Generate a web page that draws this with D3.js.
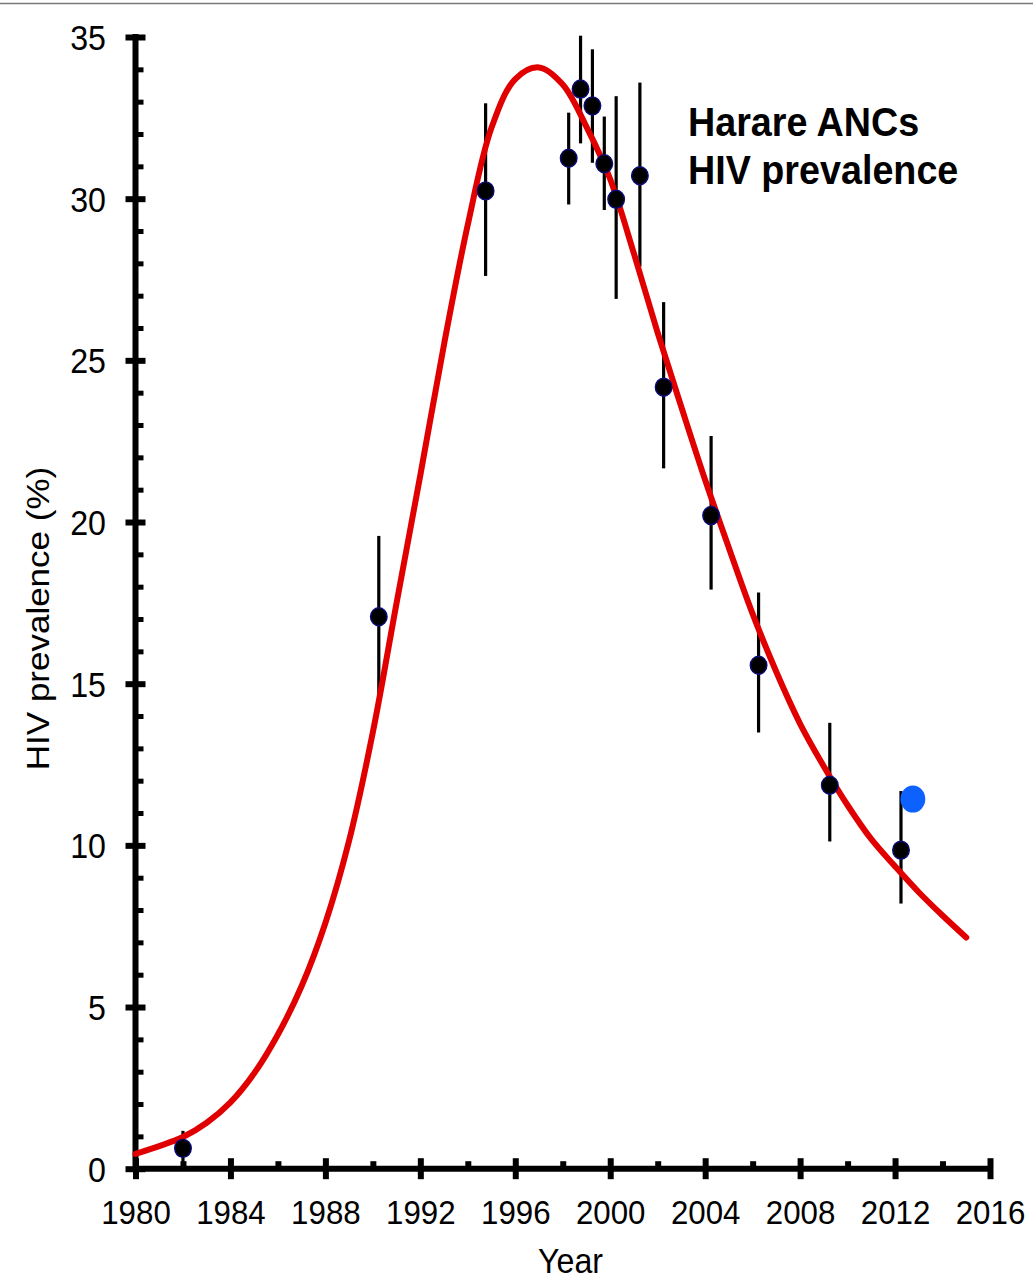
<!DOCTYPE html>
<html>
<head>
<meta charset="utf-8">
<script src="https://cdn.jsdelivr.net/npm/d3@7"></script>
<style>
  html, body { margin: 0; padding: 0; background: #fff; }
  svg { display: block; font-family: "Liberation Sans", Arial, sans-serif; }
</style>
</head>
<body>
<svg id="chart" width="1033" height="1281"></svg>
<script>
// Harare antenatal clinic surveys: HIV prevalence with 95% intervals
const surveyYear = [1982.0, 1990.25, 1994.75, 1998.25, 1998.75, 1999.25, 1999.75, 2000.25, 2001.25, 2002.25, 2004.25, 2006.25, 2009.25, 2012.25];
const prevalence = [0.63, 17.07, 30.24, 31.25, 33.39, 32.87, 31.08, 29.98, 30.71, 24.17, 20.2, 15.57, 11.86, 9.85];
const lowerCI    = [0.08, 14.6, 27.61, 29.82, 31.71, 31.11, 29.65, 26.9, 27.9, 21.66, 17.91, 13.49, 10.12, 8.2];
const upperCI    = [1.17, 19.57, 32.95, 32.66, 35.04, 34.62, 32.54, 33.17, 33.59, 26.8, 22.66, 17.82, 13.79, 11.68];

// Separate later estimate (blue marker)
const extraYear = [2012.75];
const extraValue = [11.43];

// Fitted epidemic curve
const fitYear = [1980, 1981, 1982, 1983, 1984, 1985, 1986, 1987, 1988, 1989, 1990, 1991, 1992, 1993, 1994, 1995, 1996, 1997, 1998, 1999, 2000, 2001, 2002, 2003, 2004, 2005, 2006, 2007, 2008, 2009, 2010, 2011, 2012, 2013, 2014, 2015];
const fitValue = [0.46, 0.7, 0.98, 1.42, 2.05, 2.95, 4.15, 5.65, 7.6, 10.15, 13.5, 17.5, 21.45, 25.5, 29.2, 32.2, 33.7, 34.06, 33.53, 32.22, 30.6, 28.3, 25.85, 23.55, 21.3, 19.2, 17.16, 15.36, 13.76, 12.44, 11.24, 10.19, 9.35, 8.55, 7.83, 7.15];

// Axis ticks
const xMajor = [1980, 1984, 1988, 1992, 1996, 2000, 2004, 2008, 2012, 2016];
const xMinor = [1982, 1986, 1990, 1994, 1998, 2002, 2006, 2010, 2014];
const yMajor = [0, 5, 10, 15, 20, 25, 30, 35];
const yMinor = [1, 2, 3, 4, 6, 7, 8, 9, 11, 12, 13, 14, 16, 17, 18, 19, 21, 22, 23, 24, 26, 27, 28, 29, 31, 32, 33, 34];

const SX = 0.92; // horizontal glyph squeeze used throughout the figure

const svg = d3.select("#chart");

const x = d3.scaleLinear().domain([1980, 2016]).range([135.5, 990]);
const y = d3.scaleLinear().domain([0, 35]).range([1168.7, 37]);

// thin frame line at the top
svg.append("line")
  .attr("x1", 0).attr("x2", 1033).attr("y1", 3.5).attr("y2", 3.5)
  .attr("stroke", "#7a7a7a").attr("stroke-width", 1.6);

const AX = 6;

// axis lines
svg.append("line")
  .attr("x1", x.range()[0]).attr("x2", x.range()[0])
  .attr("y1", y(35) - 3).attr("y2", y(0) + 3)
  .attr("stroke", "#000").attr("stroke-width", AX);
svg.append("line")
  .attr("x1", x.range()[0]).attr("x2", x(2016) + 3)
  .attr("y1", y(0)).attr("y2", y(0))
  .attr("stroke", "#000").attr("stroke-width", AX);

function styleTicks(g, w) {
  g.select(".domain").remove();
  g.selectAll(".tick line").attr("stroke", "#000").attr("stroke-width", w);
}

// Y axis: labelled majors (left half), right half of majors, minors
const yLeft = svg.append("g")
  .attr("transform", `translate(${x.range()[0]},0)`)
  .call(d3.axisLeft(y).tickValues(yMajor).tickSize(10).tickPadding(0).tickFormat(d3.format("d")));
styleTicks(yLeft, AX);
yLeft.selectAll(".tick text")
  .attr("fill", "#000")
  .attr("font-size", 35)
  .attr("text-anchor", "end")
  .attr("x", -29.5 / SX)
  .attr("dy", 12.4)
  .attr("transform", `scale(${SX},1)`);

svg.append("g")
  .attr("transform", `translate(${x.range()[0]},0)`)
  .call(d3.axisRight(y).tickValues(yMajor).tickSize(10).tickFormat(""))
  .call(g => styleTicks(g, AX));

svg.append("g")
  .attr("transform", `translate(${x.range()[0]},0)`)
  .call(d3.axisRight(y).tickValues(yMinor).tickSize(8).tickFormat(""))
  .call(g => styleTicks(g, 5));

// X axis
const xBottom = svg.append("g")
  .attr("transform", `translate(0,${y(0)})`)
  .call(d3.axisBottom(x).tickValues(xMajor).tickSize(10.5).tickFormat(d3.format("d")));
styleTicks(xBottom, AX);
xBottom.selectAll(".tick text")
  .attr("fill", "#000")
  .attr("font-size", 34)
  .attr("text-anchor", "middle")
  .attr("x", 0)
  .attr("y", 55.3)
  .attr("dy", 0)
  .attr("transform", `scale(${SX},1)`);

svg.append("g")
  .attr("transform", `translate(0,${y(0)})`)
  .call(d3.axisTop(x).tickValues(xMajor).tickSize(10.5).tickFormat(""))
  .call(g => styleTicks(g, AX));

svg.append("g")
  .attr("transform", `translate(0,${y(0)})`)
  .call(d3.axisTop(x).tickValues(xMinor).tickSize(7.5).tickFormat(""))
  .call(g => styleTicks(g, 6));

// axis titles
svg.append("text")
  .attr("transform", `translate(570.5,1273) scale(${SX},1)`)
  .attr("text-anchor", "middle")
  .attr("font-size", 35)
  .attr("fill", "#000")
  .text("Year");

svg.append("text")
  .attr("transform", `translate(48.5,618.5) scale(${SX},1) rotate(-90)`)
  .attr("text-anchor", "middle")
  .attr("font-size", 35)
  .attr("fill", "#000")
  .text("HIV prevalence (%)");

// chart title
const title = svg.append("text")
  .attr("transform", `translate(688,0) scale(${SX},1)`)
  .attr("font-size", 41)
  .attr("font-weight", "bold")
  .attr("fill", "#000");
title.append("tspan").attr("x", 0).attr("y", 136).text("Harare ANCs");
title.append("tspan").attr("x", 0).attr("y", 184).text("HIV prevalence");

// error bars
const obs = surveyYear.map((yr, i) => ({ yr, v: prevalence[i], lo: lowerCI[i], hi: upperCI[i] }));
svg.append("g").selectAll("line")
  .data(obs)
  .join("line")
  .attr("x1", d => x(d.yr)).attr("x2", d => x(d.yr))
  .attr("y1", d => y(d.lo)).attr("y2", d => y(d.hi))
  .attr("stroke", "#000").attr("stroke-width", 3.2);

// fitted curve
const fit = fitYear.map((yr, i) => [yr, fitValue[i]]);
svg.append("path")
  .datum(fit)
  .attr("fill", "none")
  .attr("stroke", "#e00000")
  .attr("stroke-width", 6)
  .attr("stroke-linecap", "round")
  .attr("d", d3.line().x(d => x(d[0])).y(d => y(d[1])).curve(d3.curveCatmullRom.alpha(0.5)));

// survey points
svg.append("g").selectAll("ellipse")
  .data(obs)
  .join("ellipse")
  .attr("cx", d => x(d.yr)).attr("cy", d => y(d.v))
  .attr("rx", 9 * SX).attr("ry", 9)
  .attr("fill", "#000")
  .attr("stroke", "#0a0a78").attr("stroke-width", 1.4);

svg.append("g").selectAll("ellipse")
  .data(extraYear.map((yr, i) => ({ yr, v: extraValue[i] })))
  .join("ellipse")
  .attr("cx", d => x(d.yr)).attr("cy", d => y(d.v))
  .attr("rx", 13.5 * SX).attr("ry", 13.5)
  .attr("fill", "#0d62ff");
</script>
</body>
</html>
